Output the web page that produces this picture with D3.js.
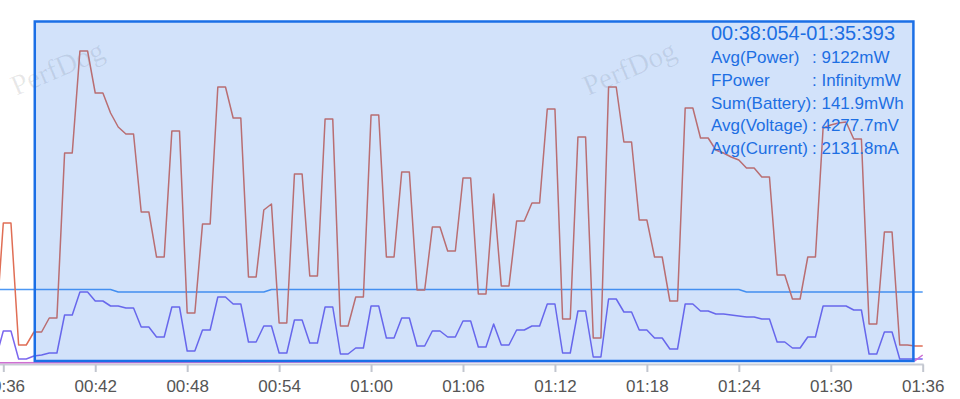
<!DOCTYPE html>
<html>
<head>
<meta charset="utf-8">
<script src="https://cdn.jsdelivr.net/npm/d3@7"></script>
<style>
  body { margin: 0; background: #fff; }
  svg { display: block; }
</style>
</head>
<body>
<script>
const width = 960;
const height = 399;

// one sample every 0.5 s, first one at 00:35.5
const sampleStart = 35.5;
const sampleStep = 0.5;

// W
const power = [
  3.0, 14.0, 14.0, 1.8, 1.8, 3.1, 3.1, 4.5, 4.5, 21.0,
  21.0, 31.2, 31.2, 27.0, 27.0, 25.0, 23.6, 22.9, 22.9, 15.1,
  15.1, 10.6, 10.6, 23.2, 23.2, 5.0, 5.0, 13.9, 13.9, 27.6,
  27.6, 24.5, 24.5, 8.6, 8.6, 15.3, 15.9, 4.0, 4.0, 18.9,
  18.9, 8.7, 8.7, 24.4, 24.4, 3.7, 3.7, 6.6, 6.6, 24.8,
  24.8, 10.6, 10.6, 19.1, 19.1, 7.3, 7.3, 13.6, 13.6, 11.2,
  11.2, 18.5, 18.5, 6.9, 6.9, 16.9, 7.7, 7.7, 14.2, 14.2,
  16.0, 16.0, 25.4, 25.4, 4.4, 4.4, 22.6, 22.6, 2.5, 2.5,
  27.6, 27.6, 22.1, 22.1, 14.3, 14.3, 10.6, 10.6, 6.2, 6.2,
  25.5, 25.5, 22.5, 22.5, 21.3, 21.0, 20.6, 20.3, 19.5, 19.5,
  18.6, 18.6, 8.8, 8.8, 6.4, 6.4, 10.6, 10.6, 23.5, 23.8,
  24.0, 24.1, 22.4, 22.4, 3.9, 3.9, 13.1, 13.1, 1.8, 1.8,
  1.7, 1.7
];

// mA
const current = [
  80, 640, 640, 80, 80, 140, 160, 200, 200, 960,
  960, 1420, 1420, 1240, 1240, 1140, 1140, 1100, 1100, 720,
  720, 520, 520, 1120, 1120, 240, 240, 660, 660, 1320,
  1320, 1180, 1180, 420, 420, 740, 740, 200, 200, 860,
  860, 400, 400, 1120, 1120, 180, 180, 300, 300, 1140,
  1140, 500, 500, 900, 900, 340, 340, 640, 640, 520,
  520, 840, 840, 320, 320, 780, 360, 360, 660, 660,
  740, 740, 1180, 1180, 200, 200, 1040, 1040, 120, 120,
  1280, 1280, 1020, 1020, 660, 660, 500, 500, 280, 280,
  1180, 1180, 1040, 1040, 980, 980, 960, 940, 920, 920,
  880, 880, 420, 420, 300, 300, 520, 520, 1140, 1140,
  1140, 1140, 1060, 1060, 180, 180, 620, 620, 80, 80,
  80, 80
];

// mV, only where it changes
const voltageTimes = [35.5, 43, 43.5, 53, 53.5, 84, 84.5, 96];
const voltage = [4280, 4280, 4276, 4276, 4280, 4280, 4276, 4276];

const fpsTimes = [35.5, 95.5, 96];
const fps = [0.1, 0.8, 2.8];

const tickSeconds = [36, 42, 48, 54, 60, 66, 72, 78, 84, 90, 96];
const selection = [38.054, 95.393];

const summaryTitle = '00:38:054-01:35:393';
const summaryLabels = ['Avg(Power)', 'FPower', 'Sum(Battery)', 'Avg(Voltage)', 'Avg(Current)'];
const summaryValues = ['9122mW', 'InfinitymW', '141.9mWh', '4277.7mV', '2131.8mA'];

const plotTop = 20;
const plotBottom = 363;
const axisY = 364.5;

const times = power.map((d, i) => sampleStart + i * sampleStep);

const x = d3.scaleLinear().domain([36, 96]).range([3.3, 922.7]);
const yPower = d3.scaleLinear().domain([0, 34.3]).range([plotBottom, plotTop]);
const yCurrent = d3.scaleLinear().domain([0, 6860]).range([plotBottom, plotTop]);
const yVoltage = d3.scaleLinear().domain([4162.4, 4711.2]).range([plotBottom, plotTop]);
const yFps = d3.scaleLinear().domain([0, 120]).range([plotBottom, plotTop]);

const fmt = s => {
  const m = Math.floor(s / 60);
  const sec = s % 60;
  return String(m).padStart(2, '0') + ':' + String(sec).padStart(2, '0');
};

const svg = d3.select('body')
  .append('svg')
  .attr('width', width)
  .attr('height', height);

svg.append('defs')
  .append('clipPath')
    .attr('id', 'plot-clip')
  .append('rect')
    .attr('x', 0)
    .attr('y', 0)
    .attr('width', x(96) + 0.5)
    .attr('height', height);

// watermark
[16, 588].forEach(wx => {
  svg.append('text')
    .attr('transform', `translate(${wx},96) rotate(-23)`)
    .attr('font-family', '"Liberation Serif", "DejaVu Serif", serif')
    .attr('font-size', 29)
    .attr('fill', '#000')
    .attr('fill-opacity', 0.09)
    .text('PerfDog');
});

// x axis
const axis = svg.append('g')
  .attr('transform', `translate(0,${axisY})`)
  .call(d3.axisBottom(x)
    .tickValues(tickSeconds)
    .tickFormat(fmt)
    .tickSize(7.5)
    .tickPadding(8));
axis.select('.domain').remove();
axis.insert('line', ':first-child')
  .attr('x1', 0)
  .attr('x2', x(96) + 1)
  .attr('stroke', '#c9cdd6')
  .attr('stroke-width', 2);
axis.selectAll('.tick line')
  .attr('stroke', '#c2c6cf')
  .attr('stroke-width', 2);
axis.selectAll('.tick text')
  .attr('fill', '#555')
  .attr('font-family', '"Liberation Sans", Arial, sans-serif')
  .attr('font-size', 17);

const lines = svg.append('g').attr('clip-path', 'url(#plot-clip)');

const series = [
  { xs: times, ys: current, scale: yCurrent, color: '#7a66ee' },
  { xs: voltageTimes, ys: voltage, scale: yVoltage, color: '#4d98f4' },
  { xs: times, ys: power, scale: yPower, color: '#e06e55' },
  { xs: fpsTimes, ys: fps, scale: yFps, color: '#cf6fd2' },
];

lines.selectAll('path')
  .data(series)
  .join('path')
    .attr('fill', 'none')
    .attr('stroke', d => d.color)
    .attr('stroke-width', 1.5)
    .attr('stroke-linejoin', 'round')
    .attr('d', d => d3.line()
      .x((v, i) => x(d.xs[i]))
      .y(v => d.scale(v))(d.ys));

// selection box
svg.append('rect')
  .attr('x', x(selection[0]))
  .attr('y', 21.5)
  .attr('width', x(selection[1]) - x(selection[0]))
  .attr('height', 361 - 21.5)
  .attr('fill', 'rgb(30,110,230)')
  .attr('fill-opacity', 0.2)
  .attr('stroke', '#1b6fe6')
  .attr('stroke-width', 2.5);

const info = svg.append('g')
  .attr('font-family', '"Liberation Sans", Arial, sans-serif')
  .attr('fill', '#1d6fe3');

info.append('text')
  .attr('x', 711)
  .attr('y', 39.5)
  .attr('font-size', 20)
  .attr('textLength', 184)
  .attr('lengthAdjust', 'spacingAndGlyphs')
  .text(summaryTitle);

summaryLabels.forEach((label, i) => {
  const yy = 63.3 + i * 22.6;
  info.append('text')
    .attr('x', 711)
    .attr('y', yy)
    .attr('font-size', 17)
    .text(label);
  info.append('text')
    .attr('x', 812)
    .attr('y', yy)
    .attr('font-size', 17)
    .attr('xml:space', 'preserve')
    .text(': ' + summaryValues[i]);
});
</script>
</body>
</html>
